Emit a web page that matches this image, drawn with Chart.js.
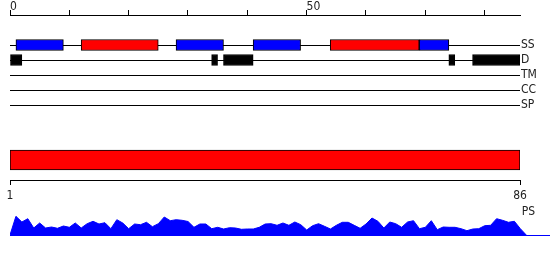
<!DOCTYPE html>
<html>
<head>
<meta charset="utf-8">
<script src="https://cdn.jsdelivr.net/npm/chart.js@4"></script>
<style>
  body { margin: 0; background: #fff; }
  #wrap { position: relative; width: 550px; height: 260px; }
  canvas { position: absolute; left: 0; }
</style>
</head>
<body>
<div id="wrap">
  <canvas id="tracksChart" width="550" height="120" style="top:0"></canvas>
  <canvas id="domainChart" width="550" height="61" style="top:140px"></canvas>
  <canvas id="profileChart" width="550" height="36" style="top:200px"></canvas>
</div>
<script>
// track names, top to bottom
const tracks = ['SS', 'D', 'TM', 'CC', 'SP'];
// secondary structure segments [start, end]
const helices = [[1, 9], [28, 36], [41, 49], [69, 74]];
const strands = [[12, 25], [54, 69]];
// disordered regions
const disorder = [[0, 2], [34, 35], [36, 41], [74, 75], [78, 86]];
// sequence range and ruler labels
const seqStart = 1;
const seqEnd = 86;
const rulerLabels = [0, 50];
// PS profile, one value per position (0 .. 87)
const psLabel = 'PS';
const psValues = [0, 18.7, 13, 16.3, 7, 12, 7, 8, 6.7, 9, 7.7, 12, 7, 11.3, 13.7, 11, 12.3, 6.3, 15.3, 12,
    6.3, 11, 10.3, 12.7, 8.3, 11.3, 18, 14.3, 15.3, 14.7, 13.5, 7.7, 11, 11, 6.3, 7.7, 6, 7.3, 7, 5.7,
    6, 6, 7.7, 11, 11.3, 9.7, 12, 9.7, 13, 10.3, 5, 9.3, 11.3, 8.7, 6, 9.7, 12.7, 12.7, 9.7, 6.7,
    11, 17, 13.7, 7, 13, 11.3, 7.7, 13, 14.3, 6.3, 7.7, 14.3, 5.3, 8, 7.7, 7.7, 6.3, 4.3, 6, 6.3,
    9.3, 9.7, 16.3, 14.7, 12.7, 13.7, 6.3, 0];

const fontFamily = "'DejaVu Sans Condensed', 'Liberation Sans Narrow', 'DejaVu Sans', sans-serif";
const textColor = '#222';

Chart.defaults.animation = false;
Chart.defaults.plugins.legend.display = false;
Chart.defaults.plugins.tooltip.enabled = false;

function segments(list, track) {
    return list.map(r => ({ x: r, y: tracks.indexOf(track) }));
}

function trackBar(label, data, color) {
    return {
        label: label,
        data: data,
        backgroundColor: color,
        borderColor: '#000',
        borderWidth: 1,
        borderSkipped: false,
        barThickness: 11,
        grouped: false
    };
}

function graphTracks(ctx) {
    new Chart(ctx, {
        type: 'bar',
        data: {
            datasets: [
                trackBar('Helix', segments(helices, 'SS'), '#0000ff'),
                trackBar('Strand', segments(strands, 'SS'), '#ff0000'),
                trackBar('Disorder', segments(disorder, 'D'), '#000')
            ]
        },
        options: {
            responsive: false,
            indexAxis: 'y',
            layout: { padding: { left: 10, right: 0, top: 0, bottom: 0 } },
            scales: {
                x: {
                    type: 'linear',
                    position: 'top',
                    min: 0,
                    max: seqEnd,
                    offset: false,
                    afterFit: s => { s.height = 15; },
                    ticks: {
                        stepSize: 10,
                        includeBounds: false,
                        align: 'start',
                        padding: 0,
                        color: textColor,
                        font: { family: fontFamily, size: 12, lineHeight: 0.6 },
                        callback: v => rulerLabels.includes(v) ? String(v) : ''
                    },
                    grid: { drawOnChartArea: false, tickLength: 5, color: '#000', offset: false },
                    border: { display: true, color: '#000', width: 1 }
                },
                y: {
                    type: 'linear',
                    position: 'right',
                    reverse: true,
                    offset: false,
                    min: -2,
                    max: 5,
                    afterFit: s => {
                        s.width = 30;
                        s.paddingTop = 0;
                        s.paddingBottom = 0;
                    },
                    afterBuildTicks: s => { s.ticks = tracks.map((t, i) => ({ value: i })); },
                    ticks: {
                        padding: 1,
                        color: textColor,
                        font: { family: fontFamily, size: 12 },
                        callback: v => tracks[v]
                    },
                    grid: { color: '#000', drawTicks: false, offset: false },
                    border: { display: false }
                }
            }
        }
    });
}

function graphDomain(ctx) {
    new Chart(ctx, {
        type: 'bar',
        data: {
            labels: ['seq'],
            datasets: [{
                label: 'Domain',
                data: [[seqStart, seqEnd]],
                backgroundColor: '#ff0000',
                borderColor: '#000',
                borderWidth: 1,
                borderSkipped: false,
                barThickness: 20
            }]
        },
        options: {
            responsive: false,
            indexAxis: 'y',
            layout: { padding: { left: 10, right: 30, top: 0, bottom: 0 } },
            scales: {
                x: {
                    type: 'linear',
                    position: 'bottom',
                    min: seqStart,
                    max: seqEnd,
                    offset: false,
                    afterFit: s => { s.height = 21; },
                    afterBuildTicks: s => { s.ticks = [{ value: seqStart }, { value: seqEnd }]; },
                    ticks: {
                        padding: 5,
                        color: textColor,
                        font: { family: fontFamily, size: 12, lineHeight: 1 }
                    },
                    grid: { drawOnChartArea: false, tickLength: 5, color: '#000', offset: false },
                    border: { display: true, color: '#000', width: 1 }
                },
                y: { display: false }
            }
        }
    });
}

function graphProfile(ctx) {
    new Chart(ctx, {
        type: 'line',
        data: {
            datasets: [{
                label: psLabel,
                data: psValues.map((v, i) => ({ x: i, y: v })),
                backgroundColor: '#0000ff',
                borderColor: '#0000ff',
                borderWidth: 1,
                pointRadius: 0,
                tension: 0,
                fill: 'origin'
            }]
        },
        options: {
            responsive: false,
            layout: { padding: { left: 10, right: 0, top: 0, bottom: 1 } },
            scales: {
                x: {
                    type: 'linear',
                    position: 'top',
                    min: 0,
                    max: 91,
                    afterFit: s => { s.height = 16; },
                    afterBuildTicks: s => { s.ticks = [{ value: seqEnd }]; },
                    ticks: {
                        align: 'start',
                        labelOffset: 1.5,
                        padding: 0,
                        color: textColor,
                        font: { family: fontFamily, size: 12, lineHeight: 0.75 },
                        callback: () => psLabel
                    },
                    grid: { display: false, drawTicks: false },
                    border: { display: false }
                },
                y: {
                    min: 0,
                    max: 19,
                    afterFit: s => { s.width = 0; },
                    afterBuildTicks: s => { s.ticks = [{ value: 0 }]; },
                    ticks: { display: false },
                    grid: { color: '#0000ff', drawTicks: false },
                    border: { display: false }
                }
            }
        }
    });
}

graphTracks(document.getElementById('tracksChart').getContext('2d'));
graphDomain(document.getElementById('domainChart').getContext('2d'));
graphProfile(document.getElementById('profileChart').getContext('2d'));
</script>
</body>
</html>
